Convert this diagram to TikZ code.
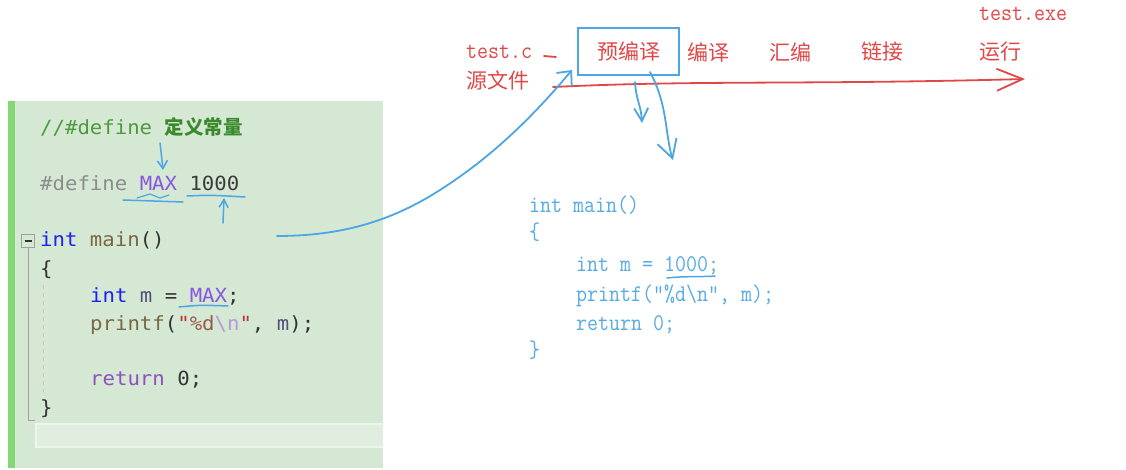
\documentclass[tikz,border=0pt]{standalone}
\usepackage{fontspec}
\usepackage{graphicx}
\usetikzlibrary{arrows.meta}
\newfontfamily\lcode{DejaVu Sans Mono}[FakeStretch=1.06]
\newfontfamily\cjk{Noto Sans CJK SC}
\newcommand{\rtxt}[1]{\scalebox{0.89}[1]{\ttfamily\fontsize{24}{24}\selectfont #1}}
\definecolor{panel}{HTML}{D4E8D4}
\definecolor{gbar}{HTML}{82D873}
\definecolor{hlfill}{HTML}{E0EEE0}
\definecolor{hlborder}{HTML}{EEF4EE}
\definecolor{blueink}{HTML}{4DA6E3}
\definecolor{redink}{HTML}{E04848}
\definecolor{codeblue}{HTML}{55ABE4}
\definecolor{cmt}{HTML}{4E9A3E}
\definecolor{cmtcjk}{HTML}{3A8A2C}
\definecolor{gr}{HTML}{8C8C8C}
\definecolor{mac}{HTML}{8A55E0}
\definecolor{num}{HTML}{3C3C3C}
\definecolor{kw}{HTML}{2020F0}
\definecolor{fn}{HTML}{7A6844}
\definecolor{dk}{HTML}{333333}
\definecolor{var}{HTML}{505078}
\definecolor{str}{HTML}{C03030}
\definecolor{fmt}{HTML}{9A5A4A}
\definecolor{esc}{HTML}{B49AD8}
\definecolor{ret}{HTML}{9050C0}
\definecolor{foldgray}{HTML}{A0A0A0}
\definecolor{guide}{HTML}{E2B8B8}
\begin{document}
\begin{tikzpicture}[x=1pt,y=-1pt,
  bl/.style={draw=blueink, line width=1.8pt, line cap=round, line join=round},
  rd/.style={draw=redink, line width=1.8pt, line cap=round, line join=round},
  lc/.style={anchor=base west, inner sep=0pt, font=\lcode\fontsize{19.5}{20}\selectfont},
  rc/.style={anchor=base west, inner sep=0pt, text=codeblue},
  rl/.style={anchor=center, inner sep=0pt, text=redink, font=\cjk\fontsize{21}{22}\selectfont},
  rt/.style={anchor=base west, inner sep=0pt, text=redink},
]
\useasboundingbox (0,0) rectangle (1126,470);
\fill[white] (0,0) rectangle (1126,470);

% editor panel
\fill[panel] (8,101) rectangle (383,468);
\fill[gbar] (8,101) rectangle (15,468);
\fill[hlfill] (35,423) rectangle (383,448);
\draw[hlborder, line width=2pt] (383,424) -- (36,424) -- (36,447) -- (383,447);
\node[draw=foldgray, line width=1pt, minimum size=13pt, inner sep=0pt] (fold) at (28,241) {};
\draw[dk, line width=1.4pt] ([xshift=-3.5pt]fold.center) -- ([xshift=3.5pt]fold.center);
\coordinate (foldend) at (35,420);
\draw[foldgray, line width=1pt] (fold.south) |- (foldend);
\coordinate (g1) at (43,285);
\coordinate (g2) at (43,392);
\draw[guide, line width=0.8pt, dash pattern=on 4pt off 4pt] (g1) -- (g2);

% left code
\node[lc] (c1) at (40,135) {\color{cmt}//\#define {\cjk\bfseries\color{cmtcjk}定义常量}};
\node[lc] (c2) at (40,191) {{\color{gr}\#define} {\color{mac}MAX} {\color{num}1000}};
\node[lc] (c3) at (40,247) {{\color{kw}int} {\color{fn}main}{\color{dk}()}};
\node[lc] (c4) at (40,275) {{\color{dk}\{}};
\node[lc] (c5) at (90,302) {{\color{kw}int} {\color{var}m} {\color{dk}=} {\color{mac}MAX}{\color{dk};}};
\node[lc] (c6) at (90,330) {{\color{fn}printf}{\color{dk}(}{\color{str}"}{\color{fmt}\%d}{\color{esc}\textbackslash n}{\color{str}"}{\color{dk},} {\color{var}m}{\color{dk});}};
\node[lc] (c7) at (90,385) {{\color{ret}return} {\color{dk}0;}};
\node[lc] (c8) at (40,414) {{\color{dk}\}}};

% right code
\node[rc] (r1) at (529,213) {\rtxt{int main()}};
\node[rc] (r2) at (529,240) {\rtxt{\{}};
\node[rc] (r3) at (576,272) {\rtxt{int m = 1000;}};
\node[rc] (r4) at (576,301) {\rtxt{printf(”\%d\textbackslash n”, m);}};
\node[rc] (r5) at (576,330) {\rtxt{return 0;}};
\node[rc] (r6) at (529,357) {\rtxt{\}}};

% top labels
\node[rt] (testc) at (466,59) {\rtxt{test.c}};
\node[rl] (src) at (498,80) {源文件};
\node[rl, draw=blueink, line width=2.5pt, minimum width=101pt, minimum height=47pt] (pre) at (628.5,51.5) {预编译};
\node[rl] (comp) at (708,52) {编译};
\node[rl] (asm) at (790,52) {汇编};
\node[rl] (link) at (882,52) {链接};
\node[rl] (run) at (1000,52) {运行};
\node[rt] (exe) at (979,21) {\rtxt{test.exe}};

% red strokes
\coordinate (d1) at (544,56);
\coordinate (d2) at (556,57);
\draw[rd] (d1) -- (d2);
\coordinate (rs) at (553,87);
\coordinate (re) at (1025,79);
\draw[rd, -{Straight Barb[length=26pt,width=22pt]}] (rs) .. controls (700,80) and (800,85) .. (re);

% blue strokes
\coordinate (bs) at (277,236);
\coordinate (bm) at (440,190);
\coordinate (be) at (572,70);
\draw[bl, -{Straight Barb[length=11pt,width=20pt]}] (bs) .. controls (340,236) and (390,222) .. (bm) .. controls (490,158) and (530,120) .. (be);

\coordinate (a2s) at (635,82);
\coordinate (a2e) at (642,123);
\draw[bl, -{Straight Barb[length=13pt,width=14pt]}] (a2s) .. controls (636,100) and (641,105) .. (a2e);

\coordinate (a3s) at (650,72);
\coordinate (a3e) at (673,160);
\draw[bl, -{Straight Barb[length=18pt,width=20pt]}] (a3s) .. controls (668,105) and (665,135) .. (a3e);

\coordinate (m1s) at (160,143);
\coordinate (m1e) at (163,170);
\draw[bl, line width=1.5pt, -{Straight Barb[length=8pt,width=10pt]}] (m1s) .. controls (162,155) .. (m1e);

\coordinate (u1s) at (123,200);
\coordinate (u1e) at (183,202);
\draw[bl, line width=1.5pt] (u1s) -- (u1e);
\coordinate (z1) at (137,198);
\coordinate (z2) at (150,194);
\coordinate (z3) at (160,198);
\coordinate (z4) at (169,195);
\draw[bl, line width=1.2pt] (z1) -- (z2) -- (z3) -- (z4);

\coordinate (u2s) at (187,196);
\coordinate (u2e) at (245,197);
\draw[bl, line width=1.5pt] (u2s) .. controls (210,195) .. (u2e);
\coordinate (k1s) at (223,223);
\coordinate (k1e) at (224,198);
\draw[bl, line width=1.5pt, -{Straight Barb[length=8pt,width=9pt]}] (k1s) -- (k1e);

\coordinate (u3s) at (179,307);
\coordinate (u3e) at (228,306);
\draw[bl, line width=1.5pt] (u3s) .. controls (200,305) .. (u3e);

\coordinate (u4s) at (667,278);
\coordinate (u4e) at (715,276);
\draw[bl, line width=1.5pt] (u4s) .. controls (685,276) and (705,277) .. (u4e);
\end{tikzpicture}
\end{document}
